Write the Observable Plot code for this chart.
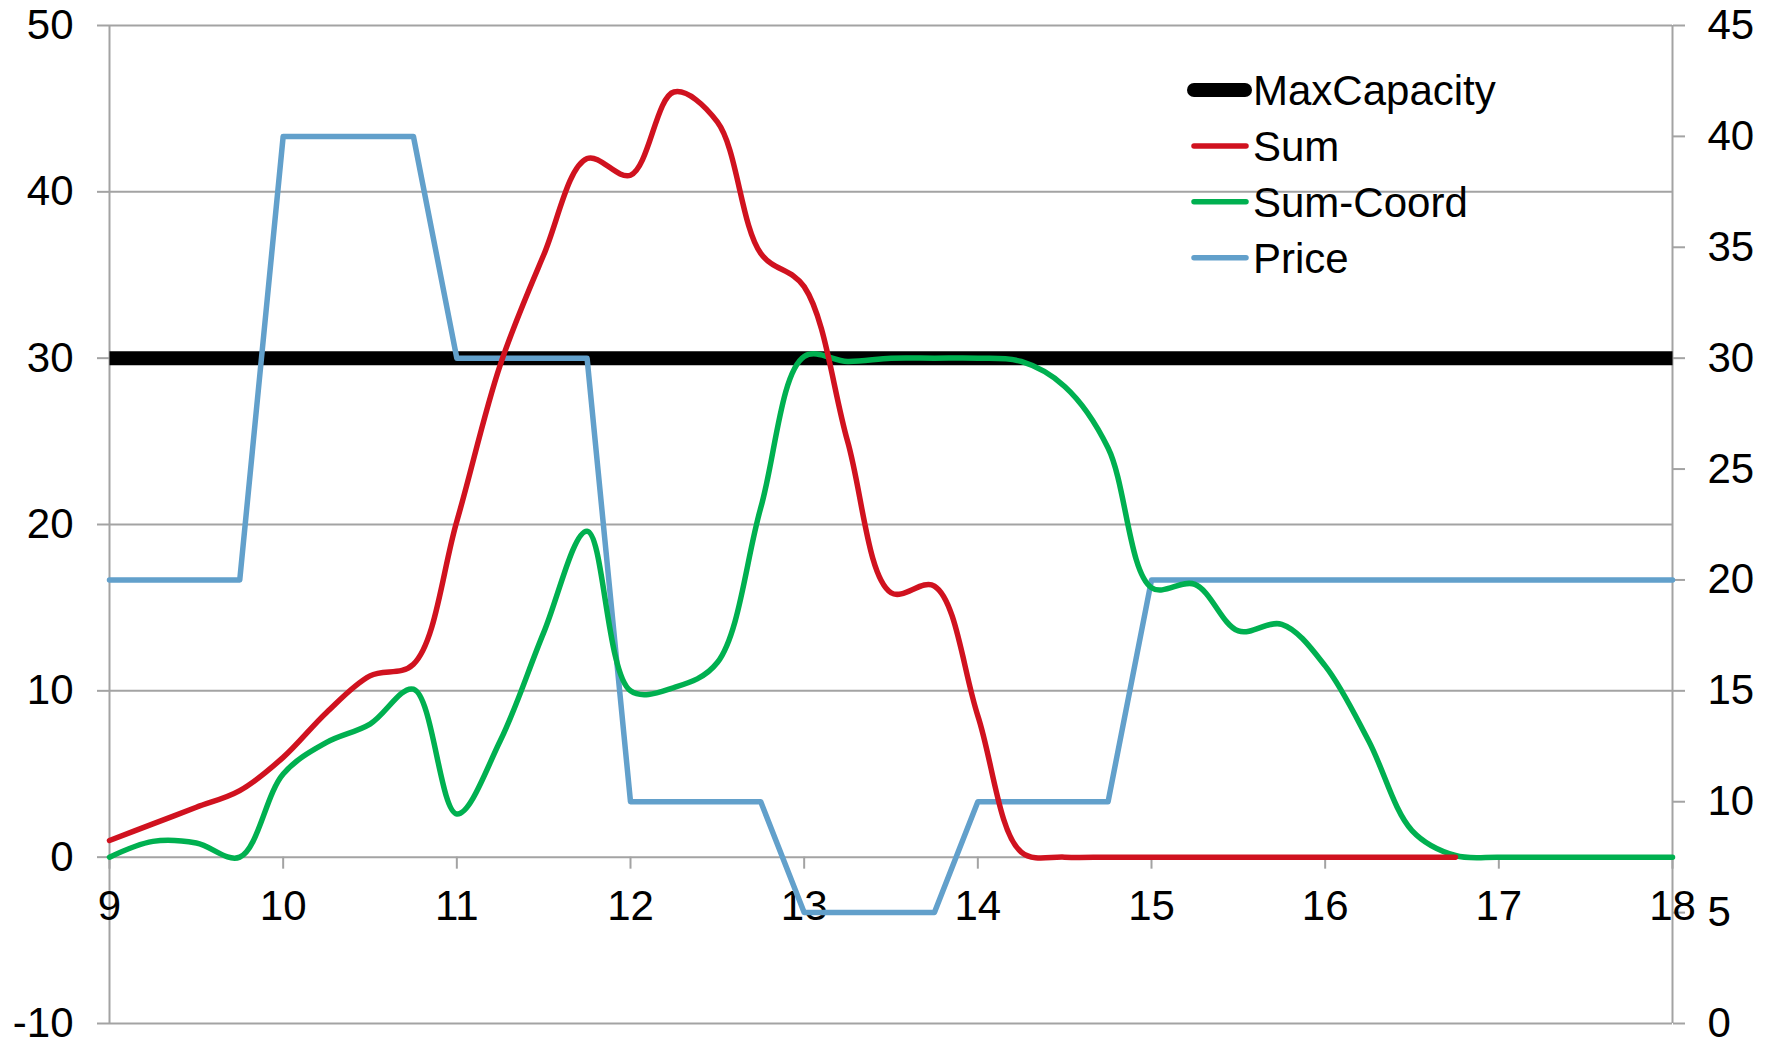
<!DOCTYPE html>
<html>
<head>
<meta charset="utf-8">
<script src="https://cdn.jsdelivr.net/npm/d3@7"></script>
<script src="https://cdn.jsdelivr.net/npm/@observablehq/plot@0.6"></script>
<style>
  html, body { margin: 0; padding: 0; background: #fff; }
  #chart svg { display: block; }
</style>
</head>
<body>
<div id="chart"></div>
<script>
// Quarter-hour time steps (hours of the day)
const hours = [9, 9.25, 9.5, 9.75, 10, 10.25, 10.5, 10.75, 11, 11.25, 11.5, 11.75,
  12, 12.25, 12.5, 12.75, 13, 13.25, 13.5, 13.75, 14, 14.25, 14.5, 14.75,
  15, 15.25, 15.5, 15.75, 16, 16.25, 16.5, 16.75, 17, 17.25, 17.5, 17.75, 18];

// Left-axis series
const maxCapacity = [30, 30, 30, 30, 30, 30, 30, 30, 30, 30, 30, 30,
  30, 30, 30, 30, 30, 30, 30, 30, 30, 30, 30, 30,
  30, 30, 30, 30, 30, 30, 30, 30, 30, 30, 30, 30, 30];
const sum = [1.0, 2.0, 3.0, 4.0, 6.0, 8.7, 10.9, 11.6, 20.2, 29.6, 36.2, 42.0,
  41.0, 46.0, 44.2, 36.3, 34.3, 25.0, 15.9, 16.3, 8.5, 0.3, 0, 0,
  0, 0, 0, 0, 0, 0, 0, 0, null, null, null, null, null];
const sumCoord = [0, 0.95, 0.85, 0, 5.0, 6.9, 8.0, 10.1, 2.6, 7.0, 13.5, 19.6,
  10.0, 10.2, 11.7, 21.0, 30.1, 29.8, 30.0, 30.0, 30.0, 29.8, 28.3, 24.6,
  16.2, 16.4, 13.6, 14.0, 11.5, 7.0, 1.6, 0.1, 0, 0, 0, 0, 0];

// Right-axis series
const price = [20, 20, 20, 20, 40, 40, 40, 40, 30, 30, 30, 30,
  10, 10, 10, 10, 5, 5, 5, 5, 10, 10, 10, 10,
  20, 20, 20, 20, 20, 20, 20, 20, 20, 20, 20, 20, 20];

// Tick values
const xTicks = [9, 10, 11, 12, 13, 14, 15, 16, 17, 18];
const leftTicks = [-10, 0, 10, 20, 30, 40, 50];
const rightTicks = [0, 5, 10, 15, 20, 25, 30, 35, 40, 45];

// Legend entries
const seriesNames = ["MaxCapacity", "Sum", "Sum-Coord", "Price"];
const seriesColors = ["#000000", "#d0121f", "#00b050", "#62a0cb"];

// The secondary (price) axis 0–45 spans the same height as the primary -10–50
const leftMin = -10, leftMax = 50, rightMin = 0, rightMax = 45;
const toLeft = p => leftMin + (p - rightMin) * (leftMax - leftMin) / (rightMax - rightMin);
const toRight = v => rightMin + (v - leftMin) * (rightMax - rightMin) / (leftMax - leftMin);

const rows = hours.map((hour, i) => ({
  hour,
  maxCapacity: maxCapacity[i],
  sum: sum[i],
  sumCoord: sumCoord[i],
  price: price[i]
}));

const gridColor = "#a3a3a3";
const font = "'Liberation Sans', Arial, Helvetica, sans-serif";
const tickFont = 42;

const chart = Plot.plot({
  width: 1775,
  height: 1041,
  marginLeft: 109,
  marginRight: 103,
  marginTop: 25,
  marginBottom: 18,
  x: {domain: [9, 18], axis: null},
  y: {domain: [leftMin, leftMax], axis: null},
  style: {fontFamily: font, background: "#fff", color: "#000", overflow: "visible"},
  marks: [
    // horizontal gridlines and the two vertical axis lines
    Plot.ruleY(leftTicks, {stroke: gridColor, strokeWidth: 2}),
    Plot.ruleX([9, 18], {stroke: gridColor, strokeWidth: 2}),
    // hour ticks hanging below the zero line
    Plot.ruleX(xTicks, {y1: () => 0, y2: () => 0, insetBottom: -12, stroke: gridColor, strokeWidth: 2}),
    // primary axis (left)
    Plot.axisY(leftTicks, {
      anchor: "left", tickSize: 12, tickPadding: 24, label: null,
      tickFormat: d => String(d),
      stroke: gridColor, strokeWidth: 2, fill: "#000", fontSize: tickFont
    }),
    // secondary axis (right), price units
    Plot.axisY(rightTicks.map(toLeft), {
      anchor: "right", tickSize: 12, tickPadding: 23, label: null,
      tickFormat: v => String(Math.round(toRight(v))),
      stroke: gridColor, strokeWidth: 2, fill: "#000", fontSize: tickFont
    }),
    // hour labels under the zero line
    Plot.text(xTicks, {
      x: d => d, y: () => 0, dy: 49, text: d => String(d),
      fill: "#000", fontSize: tickFont
    }),
    // series
    Plot.line(rows, {x: "hour", y: "maxCapacity", stroke: seriesColors[0], strokeWidth: 14, strokeLinecap: "butt"}),
    Plot.line(rows, {x: "hour", y: d => toLeft(d.price), stroke: seriesColors[3], strokeWidth: 5.5, strokeLinejoin: "round"}),
    Plot.line(rows, {x: "hour", y: "sumCoord", curve: "catmull-rom", stroke: seriesColors[2], strokeWidth: 5.5}),
    Plot.line(rows, {x: "hour", y: "sum", curve: "catmull-rom", stroke: seriesColors[1], strokeWidth: 5.5})
  ]
});

document.getElementById("chart").appendChild(chart);

// Legend inside the plot area, upper right
const legend = d3.select(chart).append("g")
  .attr("font-family", font)
  .attr("font-size", 42)
  .attr("text-anchor", "start");
const rowStep = 55.9, firstRow = 90;
seriesNames.forEach((name, i) => {
  const cy = firstRow + i * rowStep;
  const thick = i === 0;
  legend.append("line")
    .attr("x1", 1194)
    .attr("x2", thick ? 1245 : 1246)
    .attr("y1", cy).attr("y2", cy)
    .attr("stroke", seriesColors[i])
    .attr("stroke-width", thick ? 14 : 5.5)
    .attr("stroke-linecap", "round");
  legend.append("text")
    .attr("x", 1253)
    .attr("y", cy + 15)
    .attr("text-anchor", "start")
    .attr("fill", "#000")
    .text(name);
});
</script>
</body>
</html>
